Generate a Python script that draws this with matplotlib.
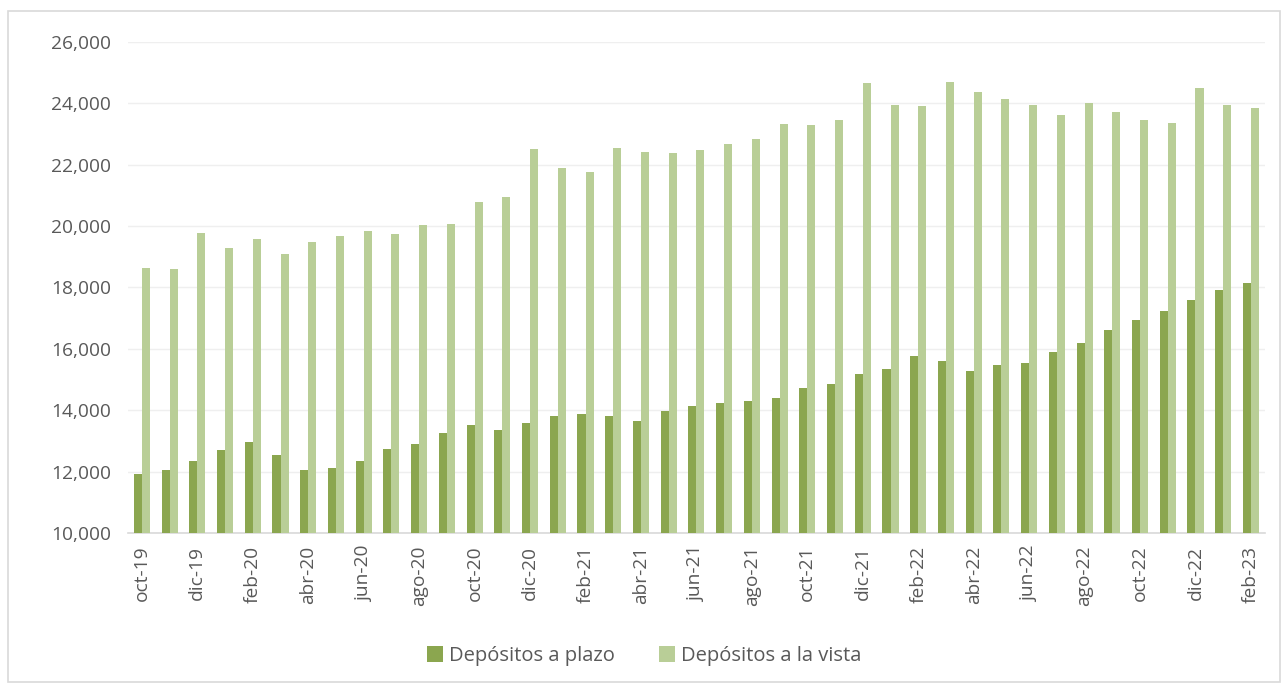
import numpy as np
import matplotlib
matplotlib.use('Agg')
import matplotlib.pyplot as plt
from matplotlib.patches import Rectangle
from matplotlib.ticker import FuncFormatter

# Data
months = ['oct-19', 'nov-19', 'dic-19',
          'ene-20', 'feb-20', 'mar-20', 'abr-20', 'may-20', 'jun-20',
          'jul-20', 'ago-20', 'sep-20', 'oct-20', 'nov-20', 'dic-20',
          'ene-21', 'feb-21', 'mar-21', 'abr-21', 'may-21', 'jun-21',
          'jul-21', 'ago-21', 'sep-21', 'oct-21', 'nov-21', 'dic-21',
          'ene-22', 'feb-22', 'mar-22', 'abr-22', 'may-22', 'jun-22',
          'jul-22', 'ago-22', 'sep-22', 'oct-22', 'nov-22', 'dic-22',
          'ene-23', 'feb-23']
plazo = [11930, 12060, 12350,
         12690, 12980, 12550, 12060, 12130, 12340,
         12740, 12900, 13270, 13520, 13360, 13590,
         13810, 13870, 13800, 13650, 13970, 14140,
         14220, 14310, 14410, 14740, 14850, 15170,
         15340, 15770, 15590, 15290, 15480, 15550,
         15900, 16200, 16620, 16930, 17220, 17590,
         17920, 18130]
vista = [18620, 18600, 19770,
         19280, 19590, 19090, 19480, 19660, 19830,
         19740, 20020, 20070, 20790, 20930, 22520,
         21880, 21760, 22550, 22410, 22380, 22470,
         22660, 22840, 23330, 23290, 23450, 24660,
         23930, 23900, 24690, 24350, 24140, 23930,
         23620, 24010, 23700, 23450, 23350, 24490,
         23940, 23850]

c_plazo = '#8BA64F'
c_vista = '#B9CE97'
txt = '#595959'

plt.rcParams['font.family'] = ['Open Sans', 'DejaVu Sans']

fig = plt.figure(figsize=(12.88, 6.86), dpi=100)
ax = fig.add_axes([0.0994, 0.223, 0.8826, 0.716])

# outer chart border
fig.patches.append(Rectangle((0.006, 0.006), 0.988, 0.978, transform=fig.transFigure,
                             fill=False, edgecolor='#D9D9D9', linewidth=1.2))

x = np.arange(len(months))
w = 0.29
ax.bar(x - w / 2, plazo, width=w, color=c_plazo, label='Depósitos a plazo', zorder=3)
ax.bar(x + w / 2, vista, width=w, color=c_vista, label='Depósitos a la vista', zorder=3)

ax.set_ylim(10000, 26000)
ax.set_xlim(-0.5, len(months) - 0.5)
ax.set_yticks(np.arange(10000, 26001, 2000))
ax.yaxis.set_major_formatter(FuncFormatter(lambda v, p: f'{int(v):,}'))
ax.set_xticks(x[::2])
ax.set_xticklabels(months[::2], rotation=90)

ax.grid(axis='y', color='#EFEFEF', linewidth=1, zorder=0)
for s in ['top', 'right', 'left']:
    ax.spines[s].set_visible(False)
ax.spines['bottom'].set_color('#D9D9D9')
ax.spines['bottom'].set_linewidth(1.2)
ax.tick_params(axis='both', length=0, colors=txt, labelsize=13.8)
ax.tick_params(axis='y', pad=12)
ax.tick_params(axis='x', pad=9)

leg = fig.legend(loc='center', bbox_to_anchor=(0.5, 0.044), ncol=2, frameon=False,
                 fontsize=14.5, handlelength=0.8, handleheight=0.8,
                 handletextpad=0.3, columnspacing=2.2)
for t in leg.get_texts():
    t.set_color(txt)

plt.savefig('out.png', dpi=100)
